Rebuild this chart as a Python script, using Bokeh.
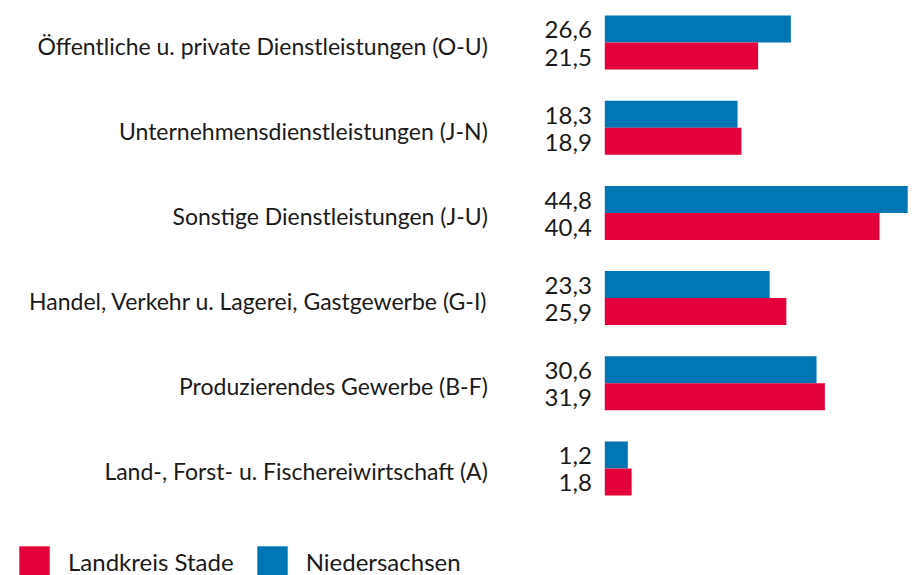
from bokeh.plotting import figure
from bokeh.models import Range1d, ColumnDataSource, Legend, LegendItem
from bokeh.core.properties import value
from bokeh.embed import file_html
from bokeh.resources import INLINE

categories = [
    "Öffentliche u. private Dienstleistungen (O-U)",
    "Unternehmensdienstleistungen (J-N)",
    "Sonstige Dienstleistungen (J-U)",
    "Handel, Verkehr u. Lagerei, Gastgewerbe (G-I)",
    "Produzierendes Gewerbe (B-F)",
    "Land-, Forst- u. Fischereiwirtschaft (A)",
]
niedersachsen = [26.6, 18.3, 44.8, 23.3, 30.6, 1.2]
landkreis_stade = [21.5, 18.9, 40.4, 25.9, 31.9, 1.8]
series_names = ["Landkreis Stade", "Niedersachsen"]

RED = "#E4003A"
BLUE = "#0075B4"
TEXT = "#1a1a1a"
FONT = "Lato"
BASE = -2.38
BAR_H = 0.317

def fmt(v):
    return f"{v:.1f}".replace(".", ",")

idx = list(range(len(categories)))
src_blue = ColumnDataSource(dict(y=[i - BAR_H / 2 for i in idx], v=niedersachsen,
                                 lab=[fmt(v) for v in niedersachsen]))
src_red = ColumnDataSource(dict(y=[i + BAR_H / 2 for i in idx], v=landkreis_stade,
                                lab=[fmt(v) for v in landkreis_stade]))
src_cat = ColumnDataSource(dict(y=idx, lab=categories))

W, H = 912, 575
p = figure(width=W, height=H, output_backend="svg", toolbar_location=None,
           x_range=Range1d(-96.51, 45.55), y_range=Range1d(6.256, -0.493),
           min_border=0, outline_line_color=None, background_fill_color="white",
           border_fill_color="white")
p.xaxis.visible = False
p.yaxis.visible = False
p.grid.visible = False

rb = p.hbar(y="y", left=BASE, right="v", height=BAR_H, source=src_blue,
            fill_color=BLUE, line_color=None)
rr = p.hbar(y="y", left=BASE, right="v", height=BAR_H, source=src_red,
            fill_color=RED, line_color=None)

p.text(x=BASE, y="y", text="lab", source=src_blue, x_offset=-13, y_offset=1,
       text_align="right", text_baseline="middle", text_font=value(FONT),
       text_font_size="24px", text_color=TEXT)
p.text(x=BASE, y="y", text="lab", source=src_red, x_offset=-13, y_offset=1,
       text_align="right", text_baseline="middle", text_font=value(FONT),
       text_font_size="24px", text_color=TEXT)
p.text(x=BASE, y="y", text="lab", source=src_cat, x_offset=-117, y_offset=3,
       text_align="right", text_baseline="middle", text_font=value(FONT),
       text_font_size="23px", text_color=TEXT)

legend = Legend(items=[LegendItem(label=series_names[0], renderers=[rr]),
                       LegendItem(label=series_names[1], renderers=[rb])],
                location=(15, -5), orientation="horizontal",
                glyph_width=38, glyph_height=38, label_standoff=15, spacing=19,
                padding=0, margin=0, border_line_alpha=0, background_fill_alpha=0,
                label_text_font=FONT, label_text_font_size="24px",
                label_text_color=TEXT, label_height=38)
p.add_layout(legend, "center")

open("out.html", "w").write(file_html(p, INLINE))
